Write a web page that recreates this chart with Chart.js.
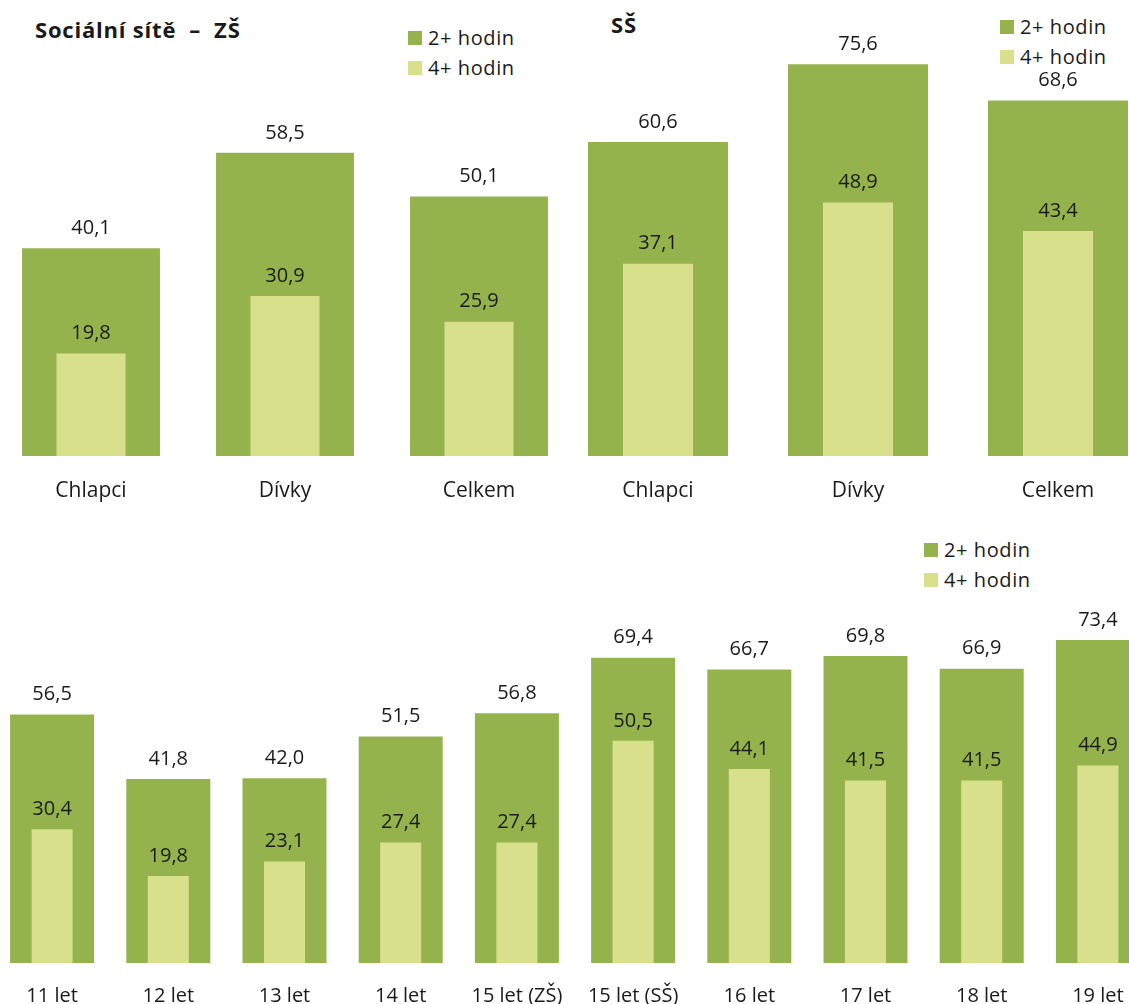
<!DOCTYPE html>
<html lang="cs">
<head>
<meta charset="utf-8">
<title>Sociální sítě</title>
<script src="https://cdn.jsdelivr.net/npm/chart.js@4.4.1/dist/chart.umd.min.js"></script>
<style>
  html, body { margin: 0; padding: 0; background: #fff; }
  #page { position: relative; width: 1129px; height: 1004px; overflow: hidden; font-family: "Open Sans", sans-serif; color: #1a1a1a; }
  canvas { position: absolute; }
  .title { position: absolute; font-weight: bold; font-size: 22px; letter-spacing: 0.8px; white-space: pre; }
  .legend { position: absolute; font-size: 20px; line-height: 30px; letter-spacing: 0.6px; }
  .legend div { display: flex; align-items: center; }
  .legend span { display: inline-block; width: 14px; height: 14px; margin-right: 6px; }
</style>
</head>
<body>
<div id="page">
  <div class="title" style="left:35px; top:14px;">Sociální sítě  –  ZŠ</div>
  <div class="title" style="left:611px; top:9px;">SŠ</div>

  <div class="legend" style="left:408px; top:23px;">
    <div><span style="background:#95b34c"></span>2+ hodin</div>
    <div><span style="background:#d8e08b"></span>4+ hodin</div>
  </div>
  <div class="legend" style="left:1000px; top:12px;">
    <div><span style="background:#95b34c"></span>2+ hodin</div>
    <div><span style="background:#d8e08b"></span>4+ hodin</div>
  </div>
  <div class="legend" style="left:924px; top:535px;">
    <div><span style="background:#95b34c"></span>2+ hodin</div>
    <div><span style="background:#d8e08b"></span>4+ hodin</div>
  </div>

  <canvas id="zs" width="582" height="520" style="left:-6px; top:0;"></canvas>
  <canvas id="ss" width="600" height="520" style="left:558px; top:0;"></canvas>
  <canvas id="age" width="1162" height="484" style="left:-6px; top:520px;"></canvas>
</div>

<script>
const DARK = "#95b34c";
const LIGHT = "#d8e08b";

// ZŠ
const zsLabels = ["Chlapci", "Dívky", "Celkem"];
const zsHours2 = [40.1, 58.5, 50.1];
const zsHours4 = [19.8, 30.9, 25.9];

// SŠ
const ssLabels = ["Chlapci", "Dívky", "Celkem"];
const ssHours2 = [60.6, 75.6, 68.6];
const ssHours4 = [37.1, 48.9, 43.4];

// by age
const ageLabels = ["11 let", "12 let", "13 let", "14 let", "15 let (ZŠ)", "15 let (SŠ)", "16 let", "17 let", "18 let", "19 let"];
const ageHours2 = [56.5, 41.8, 42.0, 51.5, 56.8, 69.4, 66.7, 69.8, 66.9, 73.4];
const ageHours4 = [30.4, 19.8, 23.1, 27.4, 27.4, 50.5, 44.1, 41.5, 41.5, 44.9];

Chart.defaults.font.family = "'Open Sans', sans-serif";
Chart.defaults.color = "#1a1a1a";

// value above every bar, decimal comma
const valueLabels = {
  id: "valueLabels",
  afterDatasetsDraw(chart) {
    const ctx = chart.ctx;
    ctx.save();
    ctx.font = "20px 'Open Sans', sans-serif";
    ctx.fillStyle = "#1a1a1a";
    ctx.textAlign = "center";
    ctx.textBaseline = "middle";
    chart.data.datasets.forEach((ds, i) => {
      chart.getDatasetMeta(i).data.forEach((bar, j) => {
        const txt = ds.data[j].toFixed(1).replace(".", ",");
        ctx.fillText(txt, bar.x, bar.y - 20);
      });
    });
    ctx.restore();
  }
};

function makeChart(id, labels, hours2, hours4, cfg) {
  return new Chart(document.getElementById(id), {
    type: "bar",
    data: {
      labels: labels,
      datasets: [
        {
          label: "4+ hodin",
          data: hours4,
          backgroundColor: LIGHT,
          grouped: false,
          order: 0,
          categoryPercentage: 1,
          barPercentage: cfg.light,
        },
        {
          label: "2+ hodin",
          data: hours2,
          backgroundColor: DARK,
          grouped: false,
          order: 1,
          categoryPercentage: 1,
          barPercentage: cfg.dark,
        },
      ],
    },
    options: {
      responsive: false,
      animation: false,
      layout: { padding: 0 },
      plugins: {
        legend: { display: false },
        tooltip: { enabled: false },
      },
      scales: {
        x: {
          grid: { display: false, drawTicks: false },
          border: { display: false },
          ticks: { font: { size: cfg.tickSize }, padding: cfg.tickPad, maxRotation: 0, autoSkip: false },
          afterFit(scale) { scale.height = cfg.axisH; },
        },
        y: {
          display: false,
          min: 0,
          max: cfg.max,
        },
      },
    },
    plugins: [valueLabels],
  });
}

makeChart("zs", zsLabels, zsHours2, zsHours4, { dark: 0.711, light: 0.356, max: 88, axisH: 64, tickPad: 22, tickSize: 21 });
makeChart("ss", ssLabels, ssHours2, ssHours4, { dark: 0.70, light: 0.35, max: 88, axisH: 64, tickPad: 22, tickSize: 21 });
makeChart("age", ageLabels, ageHours2, ageHours4, { dark: 0.723, light: 0.353, max: 100.7, axisH: 41, tickPad: 21, tickSize: 20 });
</script>
</body>
</html>
